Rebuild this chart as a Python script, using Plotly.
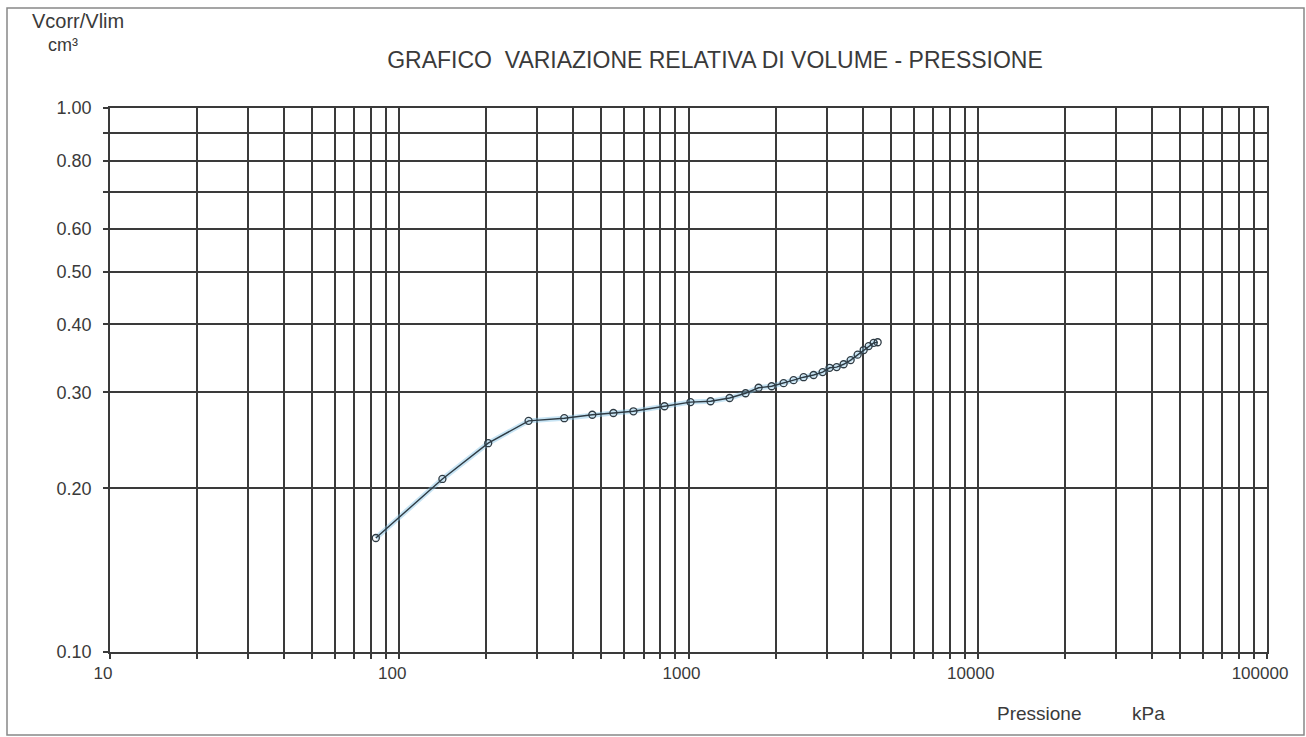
import plotly.graph_objects as go

# Pressione (kPa) e rapporto Vcorr/Vlim
pressione = [83, 141, 203, 280, 372, 465, 550, 645, 826, 1016, 1192, 1387, 1575,
             1747, 1938, 2132, 2308, 2500, 2707, 2909, 3075, 3252, 3438, 3636,
             3844, 4033, 4196, 4366, 4508]
vrel = [0.162, 0.208, 0.242, 0.266, 0.269, 0.273, 0.275, 0.277, 0.283, 0.288,
        0.289, 0.293, 0.299, 0.306, 0.308, 0.312, 0.316, 0.320, 0.323, 0.327,
        0.333, 0.334, 0.338, 0.344, 0.352, 0.359, 0.365, 0.370, 0.371]

x_major = [10, 100, 1000, 10000, 100000]
x_major_text = ["10", "100", "1000", "10000", "100000"]
x_minor = [m * 10 ** e for e in range(1, 5) for m in range(2, 10)]

y_major = [0.1, 0.2, 0.3, 0.4, 0.5, 0.6, 0.8, 1.0]
y_major_text = ["0.10", "0.20", "0.30", "0.40", "0.50", "0.60", "0.80", "1.00"]
y_minor = [0.7, 0.9]

FONT = "Arial, Liberation Sans, Helvetica, sans-serif"
GRID = "#3a3a3a"
TXT = "#3a3a3a"

fig = go.Figure()

# soft halo under the curve
fig.add_trace(go.Scatter(
    x=pressione, y=vrel, mode="lines",
    line=dict(color="rgba(130,195,230,0.45)", width=5),
    hoverinfo="skip", showlegend=False,
))
fig.add_trace(go.Scatter(
    x=pressione, y=vrel, mode="lines+markers",
    line=dict(color="#2e3b44", width=1.4),
    marker=dict(symbol="circle-open", size=7, color="#2e3b44",
                line=dict(width=1.3)),
    showlegend=False,
))

fig.update_layout(
    width=1306, height=737,
    margin=dict(l=110, r=39, t=108, b=85),
    paper_bgcolor="white", plot_bgcolor="white",
    font=dict(family=FONT, size=17, color=TXT),
    title=dict(text="GRAFICO  VARIAZIONE RELATIVA DI VOLUME - PRESSIONE",
               x=715 / 1306, xanchor="center", y=1 - 60 / 737,
               yanchor="middle", font=dict(family=FONT, size=23, color=TXT)),
    xaxis=dict(
        type="log", range=[1, 5],
        tickmode="array", tickvals=x_major, ticktext=x_major_text,
        ticks="outside", ticklen=5, tickcolor=GRID, tickwidth=1.5,
        ticklabelshift=-7,
        showgrid=True, gridcolor=GRID, gridwidth=1.5,
        showline=True, linecolor=GRID, linewidth=1.5, mirror=True,
        zeroline=False,
        minor=dict(tickmode="array", tickvals=x_minor, showgrid=True,
                   gridcolor=GRID, gridwidth=1.5, ticks="outside",
                   ticklen=5, tickcolor=GRID, tickwidth=1.5),
        tickfont=dict(size=17, color=TXT),
    ),
    yaxis=dict(
        type="log", range=[-1, 0],
        tickmode="array", tickvals=y_major, ticktext=y_major_text,
        ticks="outside", ticklen=5, tickcolor=GRID, tickwidth=1.5,
        ticklabelstandoff=8,
        showgrid=True, gridcolor=GRID, gridwidth=1.5,
        showline=True, linecolor=GRID, linewidth=1.5, mirror=True,
        zeroline=False,
        minor=dict(tickmode="array", tickvals=y_minor, showgrid=True,
                   gridcolor=GRID, gridwidth=1.5, ticks="outside",
                   ticklen=5, tickcolor=GRID, tickwidth=1.5),
        tickfont=dict(size=18, color=TXT),
    ),
    shapes=[dict(type="rect", xref="paper", yref="paper",
                 x0=(7 - 110) / 1157, x1=(1304 - 110) / 1157,
                 y0=-(735 - 652) / 544, y1=1 + (108 - 8) / 544,
                 line=dict(color="#888", width=1.5))],
    annotations=[
        dict(text="Vcorr/Vlim", xref="paper", yref="paper",
             x=(30 - 110) / 1157, y=1 + (108 - 21) / 544,
             xanchor="left", yanchor="middle", showarrow=False,
             font=dict(family=FONT, size=20, color=TXT)),
        dict(text="cm³", xref="paper", yref="paper",
             x=(46 - 110) / 1157, y=1 + (108 - 45) / 544,
             xanchor="left", yanchor="middle", showarrow=False,
             font=dict(family=FONT, size=18, color=TXT)),
        dict(text="Pressione", xref="paper", yref="paper",
             x=(995 - 110) / 1157, y=-(713 - 652) / 544,
             xanchor="left", yanchor="middle", showarrow=False,
             font=dict(family=FONT, size=19, color=TXT)),
        dict(text="kPa", xref="paper", yref="paper",
             x=(1130 - 110) / 1157, y=-(713 - 652) / 544,
             xanchor="left", yanchor="middle", showarrow=False,
             font=dict(family=FONT, size=19, color=TXT)),
    ],
)

fig.write_html("out.html")
